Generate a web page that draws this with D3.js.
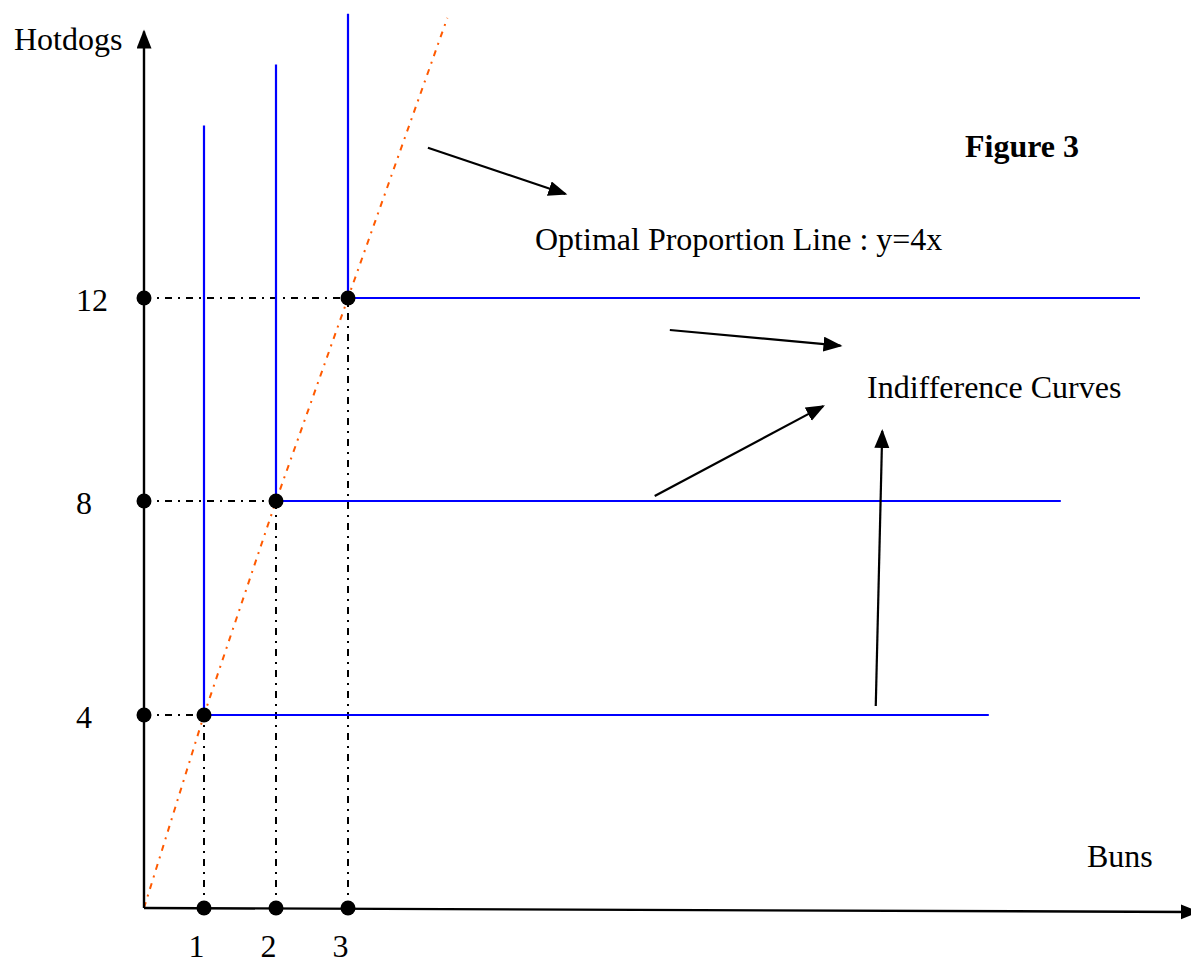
<!DOCTYPE html>
<html>
<head>
<meta charset="utf-8">
<script src="https://cdn.jsdelivr.net/npm/d3@7"></script>
<style>
  body { margin: 0; background: #fff; }
  svg { display: block; }
  text { font-family: "Liberation Serif", "Times New Roman", serif; font-size: 32px; fill: #000; }
  .guide { stroke: #000; stroke-width: 2; stroke-dasharray: 7,6,2,6; fill: none; }
  .ray { stroke: #ff5a00; stroke-width: 2; stroke-dasharray: 6,6,2,6; fill: none; }
  .curve { stroke: #0000ff; stroke-width: 2.2; fill: none; }
  .axis-line { stroke: #000; stroke-width: 2.4; fill: none; }
  .note { stroke: #000; stroke-width: 2.2; fill: none; }
</style>
</head>
<body>
<div id="chart"></div>
<script>
"use strict";

// optimal bundles (buns, hotdogs)
var buns = [1, 2, 3];
var hotdogs = [4, 8, 12];
// indifference curve arms: how far right the flat arm runs, how high the vertical arm goes
var curveRight = [11.9, 12.9, 14];
var curveTop = [15.4, 16.6, 17.6];
// proportion line y = 4x, drawn out to this many buns
var rayEnd = 4.38;
// axis extents
var xAxisMax = 14.8;
var yAxisMax = 17.25;
// annotation arrows [x0, y0, x1, y1] in data units
var noteArrows = [
    [4.11, 14.96, 6.02, 14.05],
    [7.47, 11.37, 9.84, 11.06],
    [7.26, 8.10, 9.60, 9.87],
    [10.33, 4.17, 10.42, 9.38]
];

var width = 1191, height = 965;

var svg = d3.select("#chart").append("svg")
    .attr("width", width)
    .attr("height", height);

// hand drawn figure: spacing is not even, so piecewise scales
var x = d3.scaleLinear().domain([0, 1, 2, 3]).range([144, 204, 276, 348]);
var y = d3.scaleLinear().domain([0, 4, 8, 12]).range([908, 715, 501, 298]);

var defs = svg.append("defs");
defs.append("marker")
    .attr("id", "head")
    .attr("markerUnits", "userSpaceOnUse")
    .attr("markerWidth", 20).attr("markerHeight", 16)
    .attr("refX", 17).attr("refY", 7.5)
    .attr("orient", "auto")
    .append("path")
    .attr("d", "M0,0 L19,7.5 L0,15 Z")
    .attr("fill", "#000");

var line = d3.line().x(function(d) { return x(d[0]); }).y(function(d) { return y(d[1]); });

// dash-dot guides from the axes to each bundle
buns.forEach(function(b, i) {
    svg.append("path").attr("class", "guide")
        .attr("d", line([[0, hotdogs[i]], [b, hotdogs[i]]]));
    svg.append("path").attr("class", "guide")
        .attr("d", line([[b, 0], [b, hotdogs[i]]]));
});

// optimal proportion line y = 4x
svg.append("path").attr("class", "ray")
    .attr("d", line([0, 1, 2, 3, rayEnd].map(function(b) { return [b, 4 * b]; })));

// L shaped indifference curves
svg.selectAll(".curve")
    .data(buns)
    .enter().append("path")
    .attr("class", "curve")
    .attr("d", function(b, i) {
        return line([[b, curveTop[i]], [b, hotdogs[i]], [curveRight[i], hotdogs[i]]]);
    });

// axes
svg.append("line").attr("class", "axis-line")
    .attr("x1", x(0)).attr("y1", y(0))
    .attr("x2", x(0)).attr("y2", y(yAxisMax))
    .attr("marker-end", "url(#head)");
svg.append("line").attr("class", "axis-line")
    .attr("x1", x(0)).attr("y1", y(0))
    .attr("x2", x(xAxisMax)).attr("y2", y(0) + 4)
    .attr("marker-end", "url(#head)");

var yAxis = svg.append("g")
    .attr("transform", "translate(" + x(0) + ",0)")
    .call(d3.axisLeft(y).tickValues(hotdogs).tickSize(0).tickFormat(d3.format("d")));
yAxis.select(".domain").remove();
yAxis.selectAll("text")
    .attr("x", -68)
    .attr("dy", "0.4em")
    .style("text-anchor", "start")
    .style("font-size", "32px")
    .style("font-family", "'Liberation Serif', serif");

var xAxis = svg.append("g")
    .attr("transform", "translate(0," + y(0) + ")")
    .call(d3.axisBottom(x).tickValues(buns).tickSize(0).tickFormat(d3.format("d")));
xAxis.select(".domain").remove();
xAxis.selectAll("text")
    .attr("x", -8)
    .attr("y", 26)
    .style("font-size", "32px")
    .style("font-family", "'Liberation Serif', serif");

// dots on the axes and at the bundles
var dots = [];
buns.forEach(function(b, i) {
    dots.push([0, hotdogs[i]], [b, 0], [b, hotdogs[i]]);
});
svg.selectAll(".dot")
    .data(dots)
    .enter().append("circle")
    .attr("class", "dot")
    .attr("cx", function(d) { return x(d[0]); })
    .attr("cy", function(d) { return y(d[1]); })
    .attr("r", 7.5)
    .attr("fill", "#000");

// annotation arrows
svg.selectAll(".note")
    .data(noteArrows)
    .enter().append("line")
    .attr("class", "note")
    .attr("x1", function(d) { return x(d[0]); })
    .attr("y1", function(d) { return y(d[1]); })
    .attr("x2", function(d) { return x(d[2]); })
    .attr("y2", function(d) { return y(d[3]); })
    .attr("marker-end", "url(#head)");

// labels
svg.append("text").attr("x", 14).attr("y", 50).text("Hotdogs");
svg.append("text").attr("x", 1087).attr("y", 867).text("Buns");
svg.append("text").attr("x", 965).attr("y", 157)
    .style("font-weight", "bold").text("Figure 3");
svg.append("text").attr("x", 535).attr("y", 250).text("Optimal Proportion Line : y=4x");
svg.append("text").attr("x", 867).attr("y", 398).text("Indifference Curves");
</script>
</body>
</html>
